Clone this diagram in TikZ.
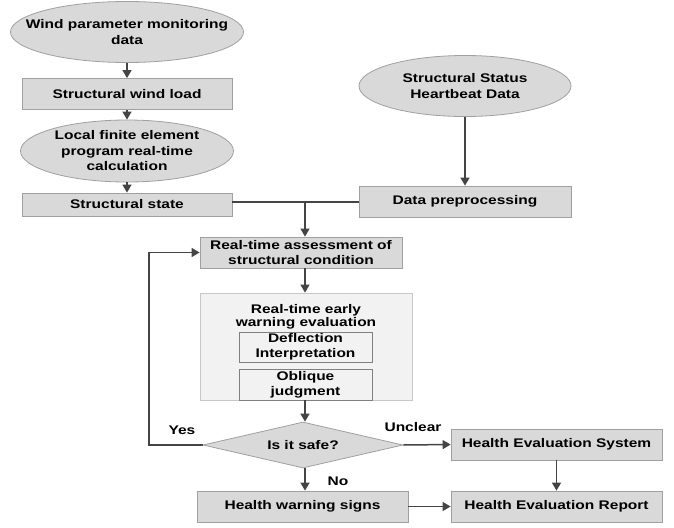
\documentclass[tikz,border=0pt]{standalone}
\usepackage{fontspec}
\setmainfont{Liberation Sans}[FakeStretch=1.24]
\usepackage{tikz}
\usetikzlibrary{calc,positioning,arrows.meta,shapes.geometric}
\definecolor{boxfill}{HTML}{D9D9D9}
\definecolor{boxline}{HTML}{A0A0A0}
\definecolor{panelfill}{HTML}{F2F2F2}
\definecolor{panelline}{HTML}{C8C8C8}
\definecolor{arrowcol}{HTML}{444444}
\tikzset{
  base/.style={font=\fontsize{12.5}{15.5}\selectfont\bfseries, align=center, inner sep=0pt},
  procbox/.style={base, rectangle, draw=boxline, fill=boxfill, line width=0.8pt},
  dataell/.style={base, ellipse, draw=boxline, fill=boxfill, line width=0.8pt, inner xsep=-30pt, inner ysep=-10pt},
  decide/.style={base, diamond, draw=boxline, fill=boxfill, line width=0.8pt},
  panel/.style={rectangle, draw=panelline, fill=panelfill, line width=0.8pt},
  subbox/.style={base, rectangle, draw=boxline!80!black, fill=panelfill, line width=0.7pt},
  flow/.style={draw=arrowcol, line width=1.5pt, -{Triangle[length=8pt,width=9pt]}},
  link/.style={draw=arrowcol, line width=1.5pt},
  lbl/.style={font=\fontsize{12.5}{15}\selectfont\bfseries, inner sep=0pt}
}
\begin{document}
\begin{tikzpicture}[x=1pt,y=-1pt]
  \useasboundingbox (0,0) rectangle (674,527);
  % left column
  \node[dataell, minimum width=233, minimum height=61] (wind) at (127,32) {Wind parameter monitoring\\data};
  \node[procbox, minimum width=210, minimum height=31] (load) at (127,94) {Structural wind load};
  \node[dataell, minimum width=213, minimum height=62] (fem) at (127,151) {Local finite element\\program real-time\\calculation};
  \node[procbox, minimum width=210, minimum height=23] (state) at (127,204.5) {Structural state};
  % right column
  \node[dataell, minimum width=212, minimum height=61] (heart) at (465,86) {Structural Status\\Heartbeat Data};
  \node[procbox, minimum width=212, minimum height=31] (prep) at (465,201.5) {Data preprocessing};
  % assessment
  \node[procbox, minimum width=202, minimum height=31] (assess) at (301,252.5) {Real-time assessment of\\structural condition};
  \node[panel, minimum width=212, minimum height=107] (warn) at (306,346.5) {};
  \node[base, font=\fontsize{12.5}{13}\selectfont\bfseries] (warntitle) at (306,317) {Real-time early\\warning evaluation};
  \node[subbox, minimum width=133, minimum height=30, font=\fontsize{12.5}{15}\selectfont\bfseries] (defl) at (305.5,347) {Deflection\\Interpretation};
  \node[subbox, minimum width=133, minimum height=31, font=\fontsize{12.5}{15}\selectfont\bfseries] (obl) at (305.5,384.5) {Oblique\\judgment};
  \node[decide, minimum width=200, minimum height=46, aspect=4.3] (safe) at (303,445) {Is it safe?};
  \node[procbox, minimum width=211, minimum height=31] (hes) at (556.5,444.5) {Health Evaluation System};
  \node[procbox, minimum width=211, minimum height=31] (hws) at (302.5,506.5) {Health warning signs};
  \node[procbox, minimum width=211, minimum height=31] (her) at (556.5,506.5) {Health Evaluation Report};
  % labels
  \node[lbl] (yes) at (182,430) {Yes};
  \node[lbl] (unclear) at (413,427) {Unclear};
  \node[lbl] (no) at (338,481) {No};
  % connectors
  \draw[flow] (wind) -- (load);
  \draw[flow] (load) -- (fem);
  \draw[flow] (fem) -- (state);
  \draw[flow] (heart) -- (heart |- prep.north);
  \coordinate (join) at (305,202);
  \draw[link] (state.east |- join) -- (join) -- (prep.west |- join);
  \draw[flow] (join) -- (join |- assess.north);
  \draw[flow] (assess.south -| join) -- (warn.north -| join);
  \draw[flow] (warn.south -| join) -- (safe.north -| join);
  \coordinate (loop) at (149,445);
  \draw[flow] (safe.west) -- (loop) -- (loop |- assess.west) -- (assess.west);
  \draw[flow] (safe.east) -- (hes.west);
  \draw[flow] (safe.south -| join) -- (hws.north -| join);
  \draw[flow] (hes) -- (her);
  \draw[flow] (hws) -- (her);
\end{tikzpicture}
\end{document}
